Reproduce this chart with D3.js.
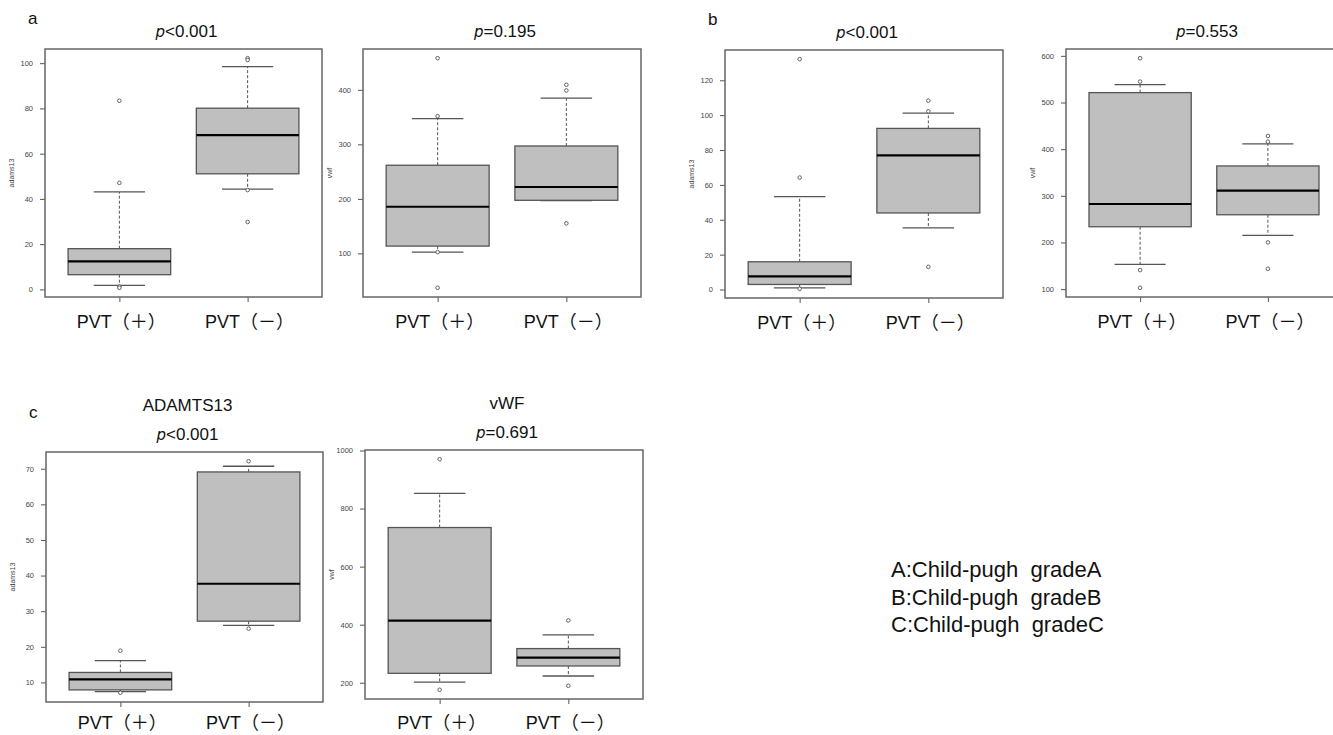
<!DOCTYPE html>
<html>
<head>
  <meta charset="UTF-8">
  <title>ADAMTS13 / vWF boxplots</title>
  <script src="https://cdn.jsdelivr.net/npm/d3@7"></script>
  <style type="text/css">
    body { margin: 0; background: #fff; }
    text { font-family: "Liberation Sans", Arial, "Noto Sans CJK JP", sans-serif; }
  </style>
</head>
<body>
<script type="text/javascript">

  //DATA
  //box stats per group: [lower whisker, Q1, median, Q3, upper whisker]
  var groups = ["PVT（＋）", "PVT（－）"];

  var aAdamts = [[1.8, 6.5, 12.4, 18.0, 43.1], [44.3, 51.1, 68.2, 80.1, 98.5]];
  var aAdamtsOut = [[83.4, 47.1, 1.3, 0.7], [102.2, 101.4, 43.9, 29.8]];
  var aAdamtsTicks = [0, 20, 40, 60, 80, 100];

  var aVwf = [[102.4, 113.4, 185.6, 261.7, 347.3], [196.8, 197.4, 221.8, 297.0, 384.7]];
  var aVwfOut = [[458, 351.7, 102.4, 36.9], [409.2, 398.8, 155.1]];
  var aVwfTicks = [100, 200, 300, 400];

  var bAdamts = [[0.9, 2.9, 7.5, 15.9, 53.3], [35.4, 43.9, 76.9, 92.4, 101.2]];
  var bAdamtsOut = [[132.1, 64.2, 0.4], [108.3, 102.2, 13.0]];
  var bAdamtsTicks = [0, 20, 40, 60, 80, 100, 120];

  var bVwf = [[153, 233.7, 282.4, 521.2, 538.4], [215.3, 259.4, 311, 364, 411.2]];
  var bVwfOut = [[595, 544.8, 140.8, 102.8], [428.3, 416, 200.2, 143.6]];
  var bVwfTicks = [100, 200, 300, 400, 500, 600];

  var cAdamts = [[7.4, 7.9, 10.85, 12.8, 16.1], [26.0, 27.2, 37.7, 69.1, 70.7]];
  var cAdamtsOut = [[18.9, 7.1], [72.1, 25.1]];
  var cAdamtsTicks = [10, 20, 30, 40, 50, 60, 70];

  var cVwf = [[202.4, 232.5, 413.7, 734.7, 852.5], [223.2, 257.8, 286.6, 317.7, 365.2]];
  var cVwfOut = [[970, 175.8], [414.7, 189.6]];
  var cVwfTicks = [200, 400, 600, 800, 1000];

  var legendLines = ["A:Child-pugh  gradeA", "B:Child-pugh  gradeB", "C:Child-pugh  gradeC"];

  //PANEL LAYOUT (plot frame in px)
  var panels = [
    {letter: "a", title: null, p: "<0.001", ylab: "adams13", stats: aAdamts, out: aAdamtsOut, ticks: aAdamtsTicks, x0: 45, x1: 322, y0: 49, y1: 297},
    {letter: null, title: null, p: "=0.195", ylab: "vwf", stats: aVwf, out: aVwfOut, ticks: aVwfTicks, x0: 363, x1: 641, y0: 49, y1: 297},
    {letter: "b", title: null, p: "<0.001", ylab: "adams13", stats: bAdamts, out: bAdamtsOut, ticks: bAdamtsTicks, x0: 725, x1: 1003, y0: 50, y1: 298},
    {letter: null, title: null, p: "=0.553", ylab: "vwf", stats: bVwf, out: bVwfOut, ticks: bVwfTicks, x0: 1066, x1: 1342, y0: 49, y1: 297},
    {letter: "c", title: "ADAMTS13", p: "<0.001", ylab: "adams13", stats: cAdamts, out: cAdamtsOut, ticks: cAdamtsTicks, x0: 46, x1: 323, y0: 452, y1: 702},
    {letter: null, title: "vWF", p: "=0.691", ylab: "vwf", stats: cVwf, out: cVwfOut, ticks: cVwfTicks, x0: 365, x1: 643, y0: 450, y1: 699}
  ];

  var svg = d3.select("body").append("svg")
      .attr("width", 1333)
      .attr("height", 735);

  var lineCol = "#555";

  panels.forEach(function (pn) {
    var g = svg.append("g");

    //y domain = data range stretched 4% each side (like R)
    var all = d3.merge(pn.stats.concat(pn.out));
    var lo = d3.min(all), hi = d3.max(all), pad = (hi - lo) * 0.04;

    var y = d3.scaleLinear()
        .domain([lo - pad, hi + pad])
        .range([pn.y1, pn.y0]);

    var x = d3.scaleLinear()
        .domain([0.42, 2.58])
        .range([pn.x0, pn.x1]);

    //Y AXIS
    var yAxis = d3.axisLeft(y)
        .tickValues(pn.ticks)
        .tickFormat(d3.format("d"))
        .tickSize(5)
        .tickPadding(7);

    var ya = g.append("g")
        .attr("transform", "translate(" + pn.x0 + ",0)")
        .call(yAxis);
    ya.select(".domain").remove();
    ya.selectAll(".tick line").attr("stroke", lineCol);
    ya.selectAll(".tick text")
        .attr("fill", "#444")
        .style("font-size", "7.5px");

    //X AXIS ticks
    var xAxis = d3.axisBottom(x)
        .tickValues([1, 2])
        .tickSize(5)
        .tickFormat("");
    var xa = g.append("g")
        .attr("transform", "translate(0," + pn.y1 + ")")
        .call(xAxis);
    xa.select(".domain").remove();
    xa.selectAll(".tick line").attr("stroke", lineCol);

    //category labels
    g.selectAll(".cat")
        .data(groups)
        .enter().append("text")
        .attr("x", function (d, i) { return x(i + 1) + 2; })
        .attr("y", Math.min(pn.y1 + 31, 729))
        .attr("text-anchor", "middle")
        .style("font-size", "18px")
        .attr("fill", "#111")
        .text(function (d) { return d; });

    //y label
    g.append("text")
        .attr("transform", "translate(" + (pn.x0 - 31) + "," + ((pn.y0 + pn.y1) / 2) + ") rotate(-90)")
        .attr("text-anchor", "middle")
        .style("font-size", "7px")
        .attr("fill", "#444")
        .text(pn.ylab);

    //BOXES
    pn.stats.forEach(function (s, i) {
      var cx = x(i + 1);
      var bw = x(1.4) - x(1);
      var cw = x(1.2) - x(1);

      //whiskers (dashed)
      g.append("line")
          .attr("x1", cx).attr("x2", cx)
          .attr("y1", y(s[3])).attr("y2", y(s[4]))
          .attr("stroke", lineCol).attr("stroke-dasharray", "3,2");
      g.append("line")
          .attr("x1", cx).attr("x2", cx)
          .attr("y1", y(s[1])).attr("y2", y(s[0]))
          .attr("stroke", lineCol).attr("stroke-dasharray", "3,2");

      //caps
      [s[0], s[4]].forEach(function (v) {
        g.append("line")
            .attr("x1", cx - cw).attr("x2", cx + cw)
            .attr("y1", y(v)).attr("y2", y(v))
            .attr("stroke", lineCol).attr("stroke-width", 1.3);
      });

      //box
      g.append("rect")
          .attr("x", cx - bw)
          .attr("y", y(s[3]))
          .attr("width", bw * 2)
          .attr("height", y(s[1]) - y(s[3]))
          .attr("fill", "#bfbfbf")
          .attr("stroke", lineCol)
          .attr("stroke-width", 1.3);

      //median
      g.append("line")
          .attr("x1", cx - bw).attr("x2", cx + bw)
          .attr("y1", y(s[2])).attr("y2", y(s[2]))
          .attr("stroke", "#000").attr("stroke-width", 2.2);

      //outliers
      g.selectAll(".out" + i)
          .data(pn.out[i])
          .enter().append("circle")
          .attr("cx", cx)
          .attr("cy", function (d) { return y(d); })
          .attr("r", 1.8)
          .attr("fill", "#fff")
          .attr("stroke", lineCol)
          .attr("stroke-width", 0.9);
    });

    //FRAME
    g.append("rect")
        .attr("x", pn.x0).attr("y", pn.y0)
        .attr("width", pn.x1 - pn.x0)
        .attr("height", pn.y1 - pn.y0)
        .attr("fill", "none")
        .attr("stroke", "#666")
        .attr("stroke-width", 1.5);

    //TITLES
    var cxm = (pn.x0 + pn.x1) / 2 + 3;
    var pt = g.append("text")
        .attr("x", cxm)
        .attr("y", pn.y0 - 12)
        .attr("text-anchor", "middle")
        .style("font-size", "17px")
        .attr("fill", "#111");
    pt.append("tspan").style("font-style", "italic").style("font-family", "'DejaVu Sans'").style("font-size", "15px").text("p");
    pt.append("tspan").text(pn.p);

    if (pn.title) {
      g.append("text")
          .attr("x", cxm)
          .attr("y", pn.y0 - 41)
          .attr("text-anchor", "middle")
          .style("font-size", "17px")
          .attr("fill", "#111")
          .text(pn.title);
    }

    if (pn.letter) {
      g.append("text")
          .attr("x", pn.x0 - 17)
          .attr("y", pn.letter === "c" ? pn.y0 - 34 : pn.y0 - 25)
          .style("font-size", "17px")
          .attr("fill", "#111")
          .text(pn.letter);
    }
  });

  //LEGEND TEXT
  svg.selectAll(".leg")
      .data(legendLines)
      .enter().append("text")
      .attr("x", 891)
      .attr("y", function (d, i) { return 577 + i * 27.7; })
      .style("font-size", "22px")
      .style("white-space", "pre")
      .attr("fill", "#111")
      .text(function (d) { return d; });

</script>
</body>
</html>
